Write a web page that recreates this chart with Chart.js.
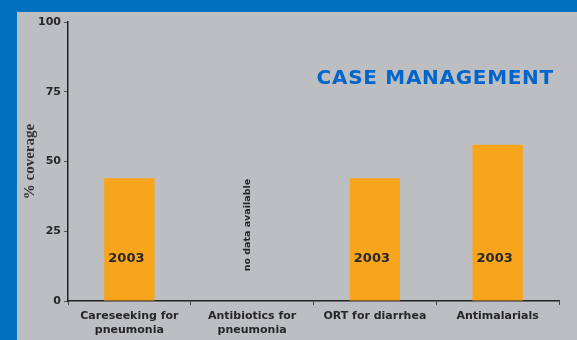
<!DOCTYPE html>
<html>
<head>
<meta charset="utf-8">
<script src="https://cdn.jsdelivr.net/npm/chart.js@4/dist/chart.umd.min.js"></script>
<style>
  html, body { margin: 0; padding: 0; }
  body { width: 577px; height: 340px; background: #0070c0; position: relative; overflow: hidden; }
  #panel { position: absolute; left: 17px; top: 12px; width: 560px; height: 328px; background: #bdbec2; }
</style>
</head>
<body>
<div id="panel"><canvas id="coverageChart" width="560" height="328"></canvas></div>
<script>
/* ---- data ---- */
const categories = [
  ["Careseeking for", "pneumonia"],
  ["Antibiotics for", "pneumonia"],
  "ORT for diarrhea",
  "Antimalarials"
];
const coverage = [44, null, 44, 56];
const yearLabels = ["2003", null, "2003", "2003"];
const missingNote = [null, "no data available", null, null];
const yTicks = [0, 25, 50, 75, 100];
const chartTitle = "CASE MANAGEMENT";

const textColor = "#262626";

// title, year labels inside the bars and the "no data" note
const annotations = {
  id: "annotations",
  afterDatasetsDraw(chart) {
    const ctx = chart.ctx;
    const x = chart.scales.x, y = chart.scales.y;
    ctx.save();

    ctx.fillStyle = "#0066cc";
    ctx.font = "bold 20px 'DejaVu Sans'";
    ctx.letterSpacing = "0.7px";
    ctx.textAlign = "center";
    ctx.textBaseline = "middle";
    ctx.fillText(chartTitle, x.getPixelForValue(2.5) - 1, y.getPixelForValue(79.5));
    ctx.letterSpacing = "0px";

    ctx.fillStyle = textColor;
    ctx.font = "bold 13px 'DejaVu Sans'";
    yearLabels.forEach((lbl, i) => {
      if (!lbl) return;
      ctx.fillText(lbl, x.getPixelForValue(i) - 3, y.getPixelForValue(15.2));
    });

    ctx.font = "bold 9.5px 'DejaVu Sans'";
    missingNote.forEach((note, i) => {
      if (!note) return;
      ctx.save();
      ctx.translate(x.getPixelForValue(i) - 5, y.getPixelForValue(27.2));
      ctx.rotate(-Math.PI / 2);
      ctx.fillText(note, 0, 0);
      ctx.restore();
    });
    ctx.restore();
  }
};

new Chart(document.getElementById("coverageChart"), {
  type: "bar",
  data: {
    labels: categories,
    datasets: [{
      data: coverage,
      backgroundColor: "#f8a51b",
      borderWidth: 0,
      categoryPercentage: 1,
      barPercentage: 0.41
    }]
  },
  options: {
    responsive: false,
    animation: false,
    layout: { padding: { top: 10, right: 18, left: 0, bottom: 0 } },
    plugins: {
      legend: { display: false },
      tooltip: { enabled: false }
    },
    scales: {
      x: {
        afterFit(scale) { scale.height = 39; },
        border: { display: true, color: "#222", width: 1.5 },
        grid: { offset: true, drawOnChartArea: false, drawTicks: true, tickLength: 4, color: "#444" },
        ticks: {
          color: textColor,
          padding: 4,
          maxRotation: 0,
          autoSkip: false,
          font: { family: "'DejaVu Sans'", size: 11, weight: "bold", lineHeight: 1.27 }
        }
      },
      y: {
        min: 0,
        max: 100,
        afterFit(scale) { scale.width = 51; },
        afterBuildTicks(scale) { scale.ticks = yTicks.map(v => ({ value: v })); },
        border: { display: true, color: "#222", width: 1.5 },
        grid: { drawOnChartArea: false, drawTicks: true, tickLength: 4, color: "#555" },
        ticks: {
          color: textColor,
          padding: 3,
          font: { family: "'DejaVu Sans'", size: 11, weight: "bold" }
        },
        title: {
          display: true,
          text: "% coverage",
          color: "#333",
          padding: { top: 4, bottom: 0 },
          font: { family: "'Liberation Serif'", size: 15, weight: "bold", lineHeight: 1.2 }
        }
      }
    }
  },
  plugins: [annotations]
});
</script>
</body>
</html>
